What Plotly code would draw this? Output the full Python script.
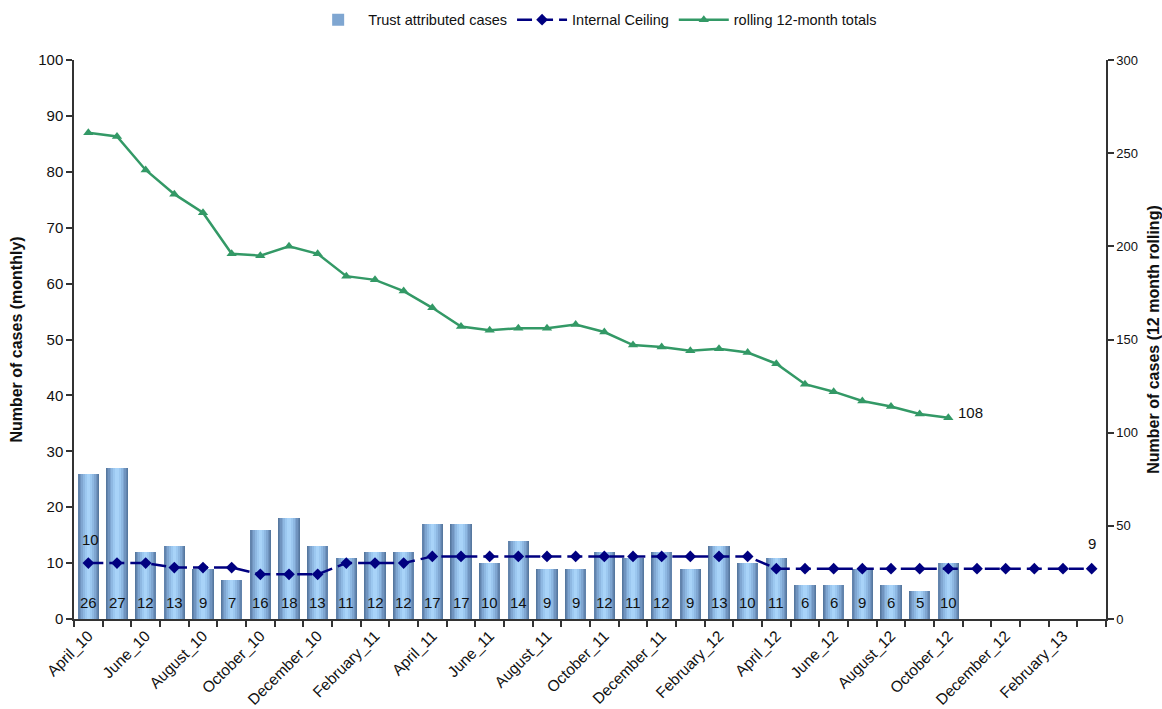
import plotly.graph_objects as go

# Months covered by the chart (April 2010 - March 2013)
months = [
    "April_10", "May_10", "June_10", "July_10", "August_10", "September_10",
    "October_10", "November_10", "December_10", "January_11", "February_11", "March_11",
    "April_11", "May_11", "June_11", "July_11", "August_11", "September_11",
    "October_11", "November_11", "December_11", "January_12", "February_12", "March_12",
    "April_12", "May_12", "June_12", "July_12", "August_12", "September_12",
    "October_12", "November_12", "December_12", "January_13", "February_13", "March_13",
]

# Monthly trust attributed cases (April_10 - October_12)
cases = [26, 27, 12, 13, 9, 7, 16, 18, 13, 11, 12, 12,
         17, 17, 10, 14, 9, 9, 12, 11, 12, 9, 13, 10,
         11, 6, 6, 9, 6, 5, 10]

# Internal ceiling per month
ceiling = [10, 10, 10, 9.2, 9.2, 9.2, 8, 8, 8, 10, 10, 10,
           11.2, 11.2, 11.2, 11.2, 11.2, 11.2, 11.2, 11.2, 11.2, 11.2, 11.2, 11.2,
           9, 9, 9, 9, 9, 9, 9, 9, 9, 9, 9, 9]

# Rolling 12-month totals (right axis)
rolling = [261, 259, 241, 228, 218, 196, 195, 200, 196, 184, 182, 176,
           167, 157, 155, 156, 156, 158, 154, 147, 146, 144, 145, 143,
           137, 126, 122, 117, 114, 110, 108]

x_all = list(range(len(months)))
x_cases = x_all[:len(cases)]
x_roll = x_all[:len(rolling)]

FONT = "Liberation Sans, Arial, sans-serif"
INK = "#111"

fig = go.Figure()

# Bars drawn as nested layers to give the cylinder-like shading
layers = [
    (0.75, "#56789f"),
    (0.69, "#6284ad"),
    (0.61, "#7094bf"),
    (0.51, "#7fa6d1"),
    (0.39, "#8eb8e2"),
    (0.25, "#9cc8f0"),
    (0.12, "#a8d3f8"),
]
for i, (w, col) in enumerate(layers):
    fig.add_trace(go.Bar(
        x=x_cases, y=cases, width=w,
        marker=dict(color=col, line=dict(width=0)),
        name="Trust attributed cases",
        showlegend=(i == 3),
        legendrank=1,
        hoverinfo=None if i == len(layers) - 1 else "skip",
        yaxis="y",
    ))

# Case counts written near the foot of each bar
for xi, v in zip(x_cases, cases):
    fig.add_annotation(x=xi, y=0, text=str(v), showarrow=False, yshift=17,
                       font=dict(family=FONT, size=15, color=INK))

fig.add_trace(go.Scatter(
    x=x_all, y=ceiling, mode="lines+markers", name="Internal Ceiling",
    line=dict(color="#000080", width=2.5, dash="15px,6px"),
    marker=dict(symbol="diamond", size=9, color="#000080"),
    legendrank=2, yaxis="y",
))

fig.add_trace(go.Scatter(
    x=x_roll, y=rolling, mode="lines+markers", name="rolling 12-month totals",
    line=dict(color="#339966", width=2.5),
    marker=dict(symbol="triangle-up", size=9, color="#339966"),
    legendrank=3, yaxis="y2",
))

# Value labels on the ceiling's first and last points and the latest rolling total
fig.add_annotation(x=x_all[0], y=ceiling[0], text=f"{ceiling[0]:g}", showarrow=False,
                   yshift=24, xshift=2, font=dict(family=FONT, size=15, color=INK))
fig.add_annotation(x=x_all[-1], y=ceiling[-1], text=f"{ceiling[-1]:g}", showarrow=False,
                   yshift=25, font=dict(family=FONT, size=15, color=INK))
fig.add_annotation(x=x_roll[-1], y=rolling[-1], yref="y2", text=f"{rolling[-1]:g}",
                   showarrow=False, xanchor="left", xshift=8, yshift=5,
                   font=dict(family=FONT, size=15, color=INK))

tick_idx = x_all[::2]
fig.update_layout(
    width=1162, height=709,
    margin=dict(l=74, r=56, t=60, b=90, autoexpand=False),
    plot_bgcolor="white", paper_bgcolor="white",
    barmode="overlay", bargap=0,
    font=dict(family=FONT, size=14, color=INK),
    showlegend=True,
    legend=dict(orientation="h", x=0.505, xanchor="center", y=1.072, yanchor="middle",
                font=dict(family=FONT, size=14.5, color=INK),
                itemwidth=50, bgcolor="rgba(0,0,0,0)"),
    xaxis=dict(
        range=[-0.5, len(months) - 0.5],
        tickmode="array", tickvals=tick_idx, ticktext=[months[i] for i in tick_idx],
        tickangle=-45, ticks="", showgrid=False, zeroline=False, automargin=False,
        showline=True, linecolor="#333", linewidth=1.5,
        tickfont=dict(family=FONT, size=15.5, color=INK),
        minor=dict(tickmode="array", tickvals=[i - 0.5 for i in range(len(months) + 1)],
                   ticks="outside", ticklen=6, tickcolor="#333", tickwidth=1.5,
                   showgrid=False),
    ),
    yaxis=dict(
        range=[0, 100], dtick=10, ticks="outside", ticklen=6, tickcolor="#333",
        tickwidth=1.5, showline=True, linecolor="#333", linewidth=1.5,
        showgrid=False, zeroline=False, automargin=False,
        tickfont=dict(family=FONT, size=15, color=INK),
        title=dict(text="<b>Number of cases (monthly)</b>",
                   font=dict(family=FONT, size=16, color=INK), standoff=12),
    ),
    yaxis2=dict(
        range=[0, 300], dtick=50, overlaying="y", side="right",
        ticks="outside", ticklen=6, tickcolor="#333", tickwidth=1.5,
        showline=True, linecolor="#333", linewidth=1.5,
        showgrid=False, zeroline=False, automargin=False,
        tickfont=dict(family=FONT, size=13, color=INK),
        title=dict(text="<b>Number of cases (12 month rolling)</b>",
                   font=dict(family=FONT, size=16, color=INK), standoff=14),
    ),
)

fig.write_html("out.html")
